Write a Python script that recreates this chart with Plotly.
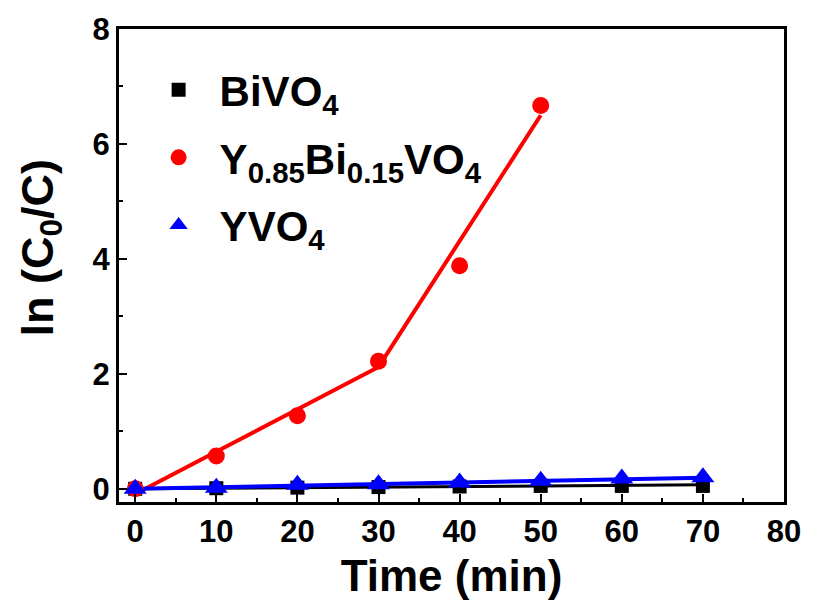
import plotly.graph_objects as go

# Irradiation time (min)
time = [0, 10, 20, 30, 40, 50, 60, 70]
time_red = [0, 10, 20, 30, 40, 50]

# ln(C0/C) for each photocatalyst
bivo4 = [0.0, 0.01, 0.02, 0.03, 0.04, 0.05, 0.05, 0.05]
ybivo4 = [0.0, 0.57, 1.27, 2.22, 3.88, 6.67]
yvo4 = [0.0, 0.02, 0.07, 0.08, 0.11, 0.14, 0.18, 0.20]

# Linear-fit segments
bivo4_fit_x = [0, 70]
bivo4_fit_y = [0.0, 0.07]
ybivo4_fit_x = [0, 30, 50]
ybivo4_fit_y = [-0.09, 2.12, 6.50]
yvo4_fit_x = [0, 70]
yvo4_fit_y = [0.0, 0.19]

FONT = "Liberation Sans"

fig = go.Figure()

# fitted lines (drawn below markers)
fig.add_trace(go.Scatter(x=bivo4_fit_x, y=bivo4_fit_y, mode="lines",
                         line=dict(color="black", width=3), showlegend=False))
fig.add_trace(go.Scatter(x=ybivo4_fit_x, y=ybivo4_fit_y, mode="lines",
                         line=dict(color="#ff0000", width=4), showlegend=False))
fig.add_trace(go.Scatter(x=yvo4_fit_x, y=yvo4_fit_y, mode="lines",
                         line=dict(color="#0000ff", width=4), showlegend=False))

# measured points
fig.add_trace(go.Scatter(x=time, y=bivo4, mode="markers", name="BiVO<sub>4</sub>",
                         legendgroup="a",
                         marker=dict(symbol="square", size=14, color="black")))
fig.add_trace(go.Scatter(x=time_red, y=ybivo4, mode="markers",
                         name="Y<sub>0.85</sub>Bi<sub>0.15</sub>VO<sub>4</sub>",
                         legendgroup="b",
                         marker=dict(symbol="circle", size=17, color="#ff0000")))
fig.add_trace(go.Scatter(x=time, y=yvo4, mode="markers", name="YVO<sub>4</sub>",
                         legendgroup="c",
                         marker=dict(symbol="triangle-up", size=20, color="#0000ff")))

axis_common = dict(
    showline=True, linecolor="black", linewidth=3, mirror=True,
    ticks="inside", ticklen=8, tickwidth=2, tickcolor="black",
    showgrid=False, zeroline=False,
    tickfont=dict(family=FONT, size=31, color="black", weight="bold"),
)

fig.update_xaxes(
    range=[-2, 80], tickvals=[0, 10, 20, 30, 40, 50, 60, 70, 80],
    minor=dict(ticks="inside", ticklen=4, tickwidth=2, tickcolor="black", dtick=5, tick0=0),
    title=dict(text="Time (min)", font=dict(family=FONT, size=44, color="black", weight="bold"),
               standoff=12),
    **axis_common,
)
fig.update_yaxes(
    range=[-0.23, 8], tickvals=[0, 2, 4, 6, 8],
    minor=dict(ticks="inside", ticklen=4, tickwidth=2, tickcolor="black", dtick=1, tick0=0),
    **axis_common,
)

# y-axis title
fig.add_annotation(
    text="ln (C<sub>0</sub>/C)", textangle=-90,
    xref="paper", yref="paper", x=-0.1187, y=0.538,
    xanchor="center", yanchor="middle", showarrow=False,
    font=dict(family=FONT, size=45, color="black", weight="bold"),
)

fig.update_layout(
    width=813, height=604,
    margin=dict(l=119, r=20, t=28, b=102),
    plot_bgcolor="white", paper_bgcolor="white",
    legend=dict(x=0.028, y=0.943, xanchor="left", yanchor="top",
                font=dict(family=FONT, size=42, color="black", weight="bold"),
                bgcolor="rgba(0,0,0,0)", tracegroupgap=10, itemwidth=72),
)

fig.write_html("out.html")
